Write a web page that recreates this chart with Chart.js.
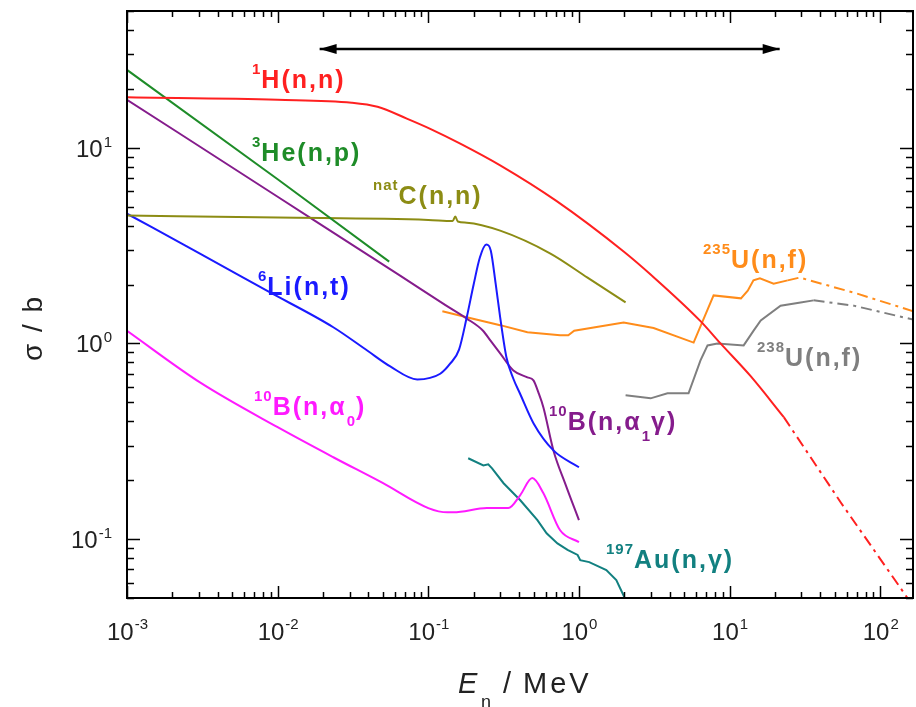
<!DOCTYPE html>
<html>
<head>
<meta charset="utf-8">
<script src="https://cdn.jsdelivr.net/npm/chart.js@4.4.1/dist/chart.umd.min.js"></script>
<style>
  html, body { margin: 0; padding: 0; background: #fff; }
</style>
</head>
<body>
<canvas id="xsChart" width="916" height="707"></canvas>
<script>
// neutron energy (MeV) and cross section (b)
const hE = [0.001, 0.01, 0.031, 0.046, 0.072, 0.103, 0.163, 0.3, 0.708, 1.98, 2.99, 6.41, 8.7, 13.8, 22.9];
const hSigma = [18.1, 17.6, 17.0, 16.2, 14.1, 12.5, 10.5, 8.13, 5.35, 2.95, 2.25, 1.30, 1.0, 0.68, 0.42];
const hTailE = [22.9, 55, 150, 200];
const hTailSigma = [0.42, 0.153, 0.0506, 0.036];

const heE = [0.001, 0.01, 0.055];
const heSigma = [25, 6.9, 2.62];

const cE = [0.001, 0.01, 0.1, 0.145, 0.151, 0.157, 0.18, 0.3, 0.647, 1.14, 2.04];
const cSigma = [4.5, 4.4, 4.28, 4.22, 4.45, 4.2, 4.14, 3.77, 2.88, 2.17, 1.62];

const liE = [0.001, 0.00305, 0.00848, 0.0234, 0.0393, 0.0559, 0.0845, 0.12, 0.14, 0.16, 0.18, 0.2, 0.22, 0.243, 0.26, 0.28, 0.3, 0.33, 0.367, 0.408, 0.5, 0.677, 1.0];
const liSigma = [4.6, 2.88, 1.86, 1.21, 0.92, 0.763, 0.655, 0.70, 0.79, 0.93, 1.36, 2.0, 2.75, 3.2, 2.98, 2.02, 1.36, 0.85, 0.66, 0.55, 0.39, 0.284, 0.233];

const b1E = [0.001, 0.01, 0.065, 0.13, 0.18, 0.23, 0.258, 0.3, 0.367, 0.455, 0.499, 0.538, 0.581, 0.677, 0.813, 1.0];
const b1Sigma = [17.6, 5.62, 2.22, 1.57, 1.34, 1.165, 1.036, 0.889, 0.728, 0.671, 0.648, 0.562, 0.471, 0.284, 0.191, 0.125];

const b0E = [0.001, 0.00305, 0.01, 0.0234, 0.0501, 0.1, 0.134, 0.147, 0.245, 0.34, 0.408, 0.49, 0.58, 0.75, 1.0];
const b0Sigma = [1.16, 0.632, 0.373, 0.262, 0.193, 0.144, 0.137, 0.137, 0.144, 0.144, 0.168, 0.205, 0.172, 0.111, 0.0966];

const auE = [0.184, 0.232, 0.25, 0.265, 0.316, 0.408, 0.53, 0.61, 0.72, 0.84, 0.98, 1.02, 1.17, 1.52, 1.77, 2.0];
const auSigma = [0.259, 0.238, 0.241, 0.23, 0.193, 0.158, 0.125, 0.107, 0.095, 0.088, 0.083, 0.078, 0.0763, 0.0695, 0.0618, 0.0506];

const u5E = [0.124, 0.18, 0.3, 0.455, 0.75, 0.85, 0.93, 1.98, 3.13, 5.77, 7.83, 11.9, 13.2, 14.4, 15.9, 19.6, 24.3];
const u5Sigma = [1.46, 1.36, 1.24, 1.14, 1.1, 1.1, 1.16, 1.28, 1.2, 1.01, 1.76, 1.7, 1.86, 2.1, 2.15, 2.02, 2.1];
const u5TailE = [24.3, 29.2, 69.8, 175];
const u5TailSigma = [2.1, 2.17, 1.8, 1.44];

const u8E = [2.04, 2.99, 3.87, 5.34, 6.41, 7.14, 8.3, 12.4, 14.4, 16.1, 21.8, 29.6, 36.1];
const u8Sigma = [0.543, 0.524, 0.556, 0.556, 0.819, 0.977, 1.0, 0.977, 1.16, 1.31, 1.56, 1.62, 1.66];
const u8TailE = [36.1, 66.7, 175];
const u8TailSigma = [1.66, 1.56, 1.31];

// range arrow
const arrowE = [0.019, 21.5];
const arrowSigma = [32, 32];

// axis tick labels
const xTickValues = [1e-3, 1e-2, 1e-1, 1, 10, 100];
const xTickExp = ['-3', '-2', '-1', '0', '1', '2'];
const yTickValues = [0.1, 1, 10];
const yTickExp = ['-1', '0', '1'];

const pts = (xs, ys) => xs.map((v, i) => ({ x: v, y: ys[i] }));
const dashDot = [11, 5, 3, 5];

function series(xs, ys, color, opts) {
  return Object.assign({
    data: pts(xs, ys),
    borderColor: color,
    borderWidth: 2,
    pointRadius: 0,
    fill: false,
    tension: 0
  }, opts || {});
}

const RED = '#ff2020', GREEN = '#1e8c28', OLIVE = '#8c8c14', BLUE = '#1a1aff',
      PURPLE = '#851c8c', MAGENTA = '#ff1aff', TEAL = '#128080', ORANGE = '#ff8c1a', GRAY = '#7f7f7f';

const datasets = [
  series(hE, hSigma, RED, { cubicInterpolationMode: 'monotone' }),
  series(hTailE, hTailSigma, RED, { borderDash: dashDot }),
  series(heE, heSigma, GREEN),
  series(cE, cSigma, OLIVE, { cubicInterpolationMode: 'monotone' }),
  series(liE, liSigma, BLUE, { cubicInterpolationMode: 'monotone' }),
  series(b1E, b1Sigma, PURPLE, { cubicInterpolationMode: 'monotone' }),
  series(b0E, b0Sigma, MAGENTA, { cubicInterpolationMode: 'monotone' }),
  series(auE, auSigma, TEAL),
  series(u5E, u5Sigma, ORANGE),
  series(u5TailE, u5TailSigma, ORANGE, { borderDash: dashDot }),
  series(u8E, u8Sigma, GRAY),
  series(u8TailE, u8TailSigma, GRAY, { borderDash: dashDot }),
  series(arrowE, arrowSigma, '#000', { borderWidth: 2.5 })
];

// curve labels: left x, baseline y, parts
const curveLabels = [
  { x: 252, y: 88, c: RED, parts: [['sup', '1'], ['main', 'H(n,n)']] },
  { x: 252, y: 161, c: GREEN, parts: [['sup', '3'], ['main', 'He(n,p)']] },
  { x: 373, y: 204, c: OLIVE, parts: [['sup', 'nat'], ['main', 'C(n,n)']] },
  { x: 258, y: 295, c: BLUE, parts: [['sup', '6'], ['main', 'Li(n,t)']] },
  { x: 254, y: 415, c: MAGENTA, parts: [['sup', '10'], ['main', 'B(n,\u03b1'], ['sub', '0'], ['main', ')']] },
  { x: 549, y: 430, c: PURPLE, parts: [['sup', '10'], ['main', 'B(n,\u03b1'], ['sub', '1'], ['main', '\u03b3)']] },
  { x: 606, y: 568, c: TEAL, parts: [['sup', '197'], ['main', 'Au(n,\u03b3)']] },
  { x: 703, y: 268, c: ORANGE, parts: [['sup', '235'], ['main', 'U(n,f)']] },
  { x: 757, y: 366, c: GRAY, parts: [['sup', '238'], ['main', 'U(n,f)']] }
];

function drawRich(ctx, x0, yb, parts, color) {
  let x = x0;
  ctx.fillStyle = color;
  ctx.textAlign = 'left';
  ctx.textBaseline = 'alphabetic';
  parts.forEach(([kind, t]) => {
    if (kind === 'main') {
      ctx.font = 'bold 25px "Liberation Sans", Arial, sans-serif';
      ctx.letterSpacing = '2px';
    } else {
      ctx.font = 'bold 15px "Liberation Sans", Arial, sans-serif';
      ctx.letterSpacing = '1px';
    }
    const dy = kind === 'sup' ? -14 : kind === 'sub' ? 11 : 0;
    ctx.fillText(t, x, yb + dy);
    x += ctx.measureText(t).width;
  });
  ctx.letterSpacing = '0px';
}

const decor = {
  id: 'decor',
  afterDatasetsDraw(chart) {
    const { ctx, chartArea: a, scales: { x, y } } = chart;
    ctx.save();

    // arrow heads on the range arrow
    ctx.fillStyle = '#000';
    const ay = y.getPixelForValue(arrowSigma[0]);
    const ax1 = x.getPixelForValue(arrowE[0]);
    const ax2 = x.getPixelForValue(arrowE[1]);
    ctx.beginPath();
    ctx.moveTo(ax1, ay); ctx.lineTo(ax1 + 17, ay - 5); ctx.lineTo(ax1 + 17, ay + 5); ctx.closePath(); ctx.fill();
    ctx.beginPath();
    ctx.moveTo(ax2, ay); ctx.lineTo(ax2 - 17, ay - 5); ctx.lineTo(ax2 - 17, ay + 5); ctx.closePath(); ctx.fill();

    // frame
    ctx.strokeStyle = '#000';
    ctx.lineWidth = 2;
    ctx.strokeRect(a.left, a.top, a.right - a.left, a.bottom - a.top);

    // inward ticks on all four sides
    ctx.lineWidth = 1.5;
    const seg = (x1, y1, x2, y2) => { ctx.beginPath(); ctx.moveTo(x1, y1); ctx.lineTo(x2, y2); ctx.stroke(); };
    const logTicks = (scale) => {
      const out = [];
      const k0 = Math.floor(Math.log10(scale.min)), k1 = Math.ceil(Math.log10(scale.max));
      for (let k = k0; k <= k1; k++) {
        for (let m = 1; m <= 9; m++) {
          const v = m * Math.pow(10, k);
          if (v >= scale.min * 0.999 && v <= scale.max * 1.001) out.push({ v, major: m === 1 });
        }
      }
      return out;
    };
    logTicks(x).forEach(t => {
      const px = Math.round(x.getPixelForValue(t.v)) + 0.5;
      const L = t.major ? 12 : 6;
      seg(px, a.bottom, px, a.bottom - L);
      seg(px, a.top, px, a.top + L);
    });
    logTicks(y).forEach(t => {
      const py = Math.round(y.getPixelForValue(t.v)) + 0.5;
      const L = t.major ? 13 : 7;
      seg(a.left, py, a.left + L, py);
      seg(a.right, py, a.right - L, py);
    });

    // tick labels 10^n
    ctx.fillStyle = '#222';
    ctx.textBaseline = 'alphabetic';
    const base = '24px "Liberation Sans", Arial, sans-serif';
    const expo = '15px "Liberation Sans", Arial, sans-serif';
    xTickValues.forEach((v, i) => {
      ctx.font = base; const w1 = ctx.measureText('10').width;
      ctx.font = expo; const w2 = ctx.measureText(xTickExp[i]).width;
      const px = x.getPixelForValue(v);
      const left = px - (w1 + w2) / 2;
      ctx.textAlign = 'left';
      ctx.font = base; ctx.fillText('10', left, a.bottom + 42);
      ctx.font = expo; ctx.fillText(xTickExp[i], left + w1 + 1, a.bottom + 31);
    });
    yTickValues.forEach((v, i) => {
      ctx.font = expo; const w2 = ctx.measureText(yTickExp[i]).width;
      const py = y.getPixelForValue(v);
      const right = a.left - 15;
      ctx.textAlign = 'left';
      ctx.font = expo; ctx.fillText(yTickExp[i], right - w2, py - 1);
      ctx.textAlign = 'right';
      ctx.font = base; ctx.fillText('10', right - w2 - 1, py + 9);
    });

    // axis titles
    ctx.fillStyle = '#222';
    ctx.textAlign = 'left';
    ctx.font = 'italic 29px "Liberation Sans", Arial, sans-serif';
    ctx.fillText('E', 458, 693);
    ctx.font = '18px "Liberation Sans", Arial, sans-serif';
    ctx.fillText('n', 481, 708);
    ctx.font = '29px "Liberation Sans", Arial, sans-serif';
    ctx.letterSpacing = '3px';
    ctx.fillText('/', 503, 693);
    ctx.fillText('MeV', 523, 693);
    ctx.letterSpacing = '0px';

    ctx.save();
    ctx.translate(42, 328);
    ctx.rotate(-Math.PI / 2);
    ctx.textAlign = 'center';
    ctx.font = '28px "Liberation Sans", Arial, sans-serif';
    ctx.letterSpacing = '2px';
    ctx.fillText('\u03c3 / b', 0, 0);
    ctx.restore();

    // curve labels
    curveLabels.forEach(l => drawRich(ctx, l.x, l.y, l.parts, l.c));

    ctx.restore();
  }
};

const ctx = document.getElementById('xsChart').getContext('2d');
new Chart(ctx, {
  type: 'line',
  data: { datasets: datasets },
  options: {
    responsive: false,
    animation: false,
    layout: { padding: { left: 127, right: 3, top: 11, bottom: 109 } },
    scales: {
      x: {
        type: 'logarithmic', min: 1e-3, max: 165,
        ticks: { display: false },
        grid: { display: false, drawTicks: false },
        border: { display: false }
      },
      y: {
        type: 'logarithmic', min: 0.05, max: 50,
        ticks: { display: false },
        grid: { display: false, drawTicks: false },
        border: { display: false }
      }
    },
    plugins: { legend: { display: false }, tooltip: { enabled: false } }
  },
  plugins: [decor]
});
</script>
</body>
</html>
